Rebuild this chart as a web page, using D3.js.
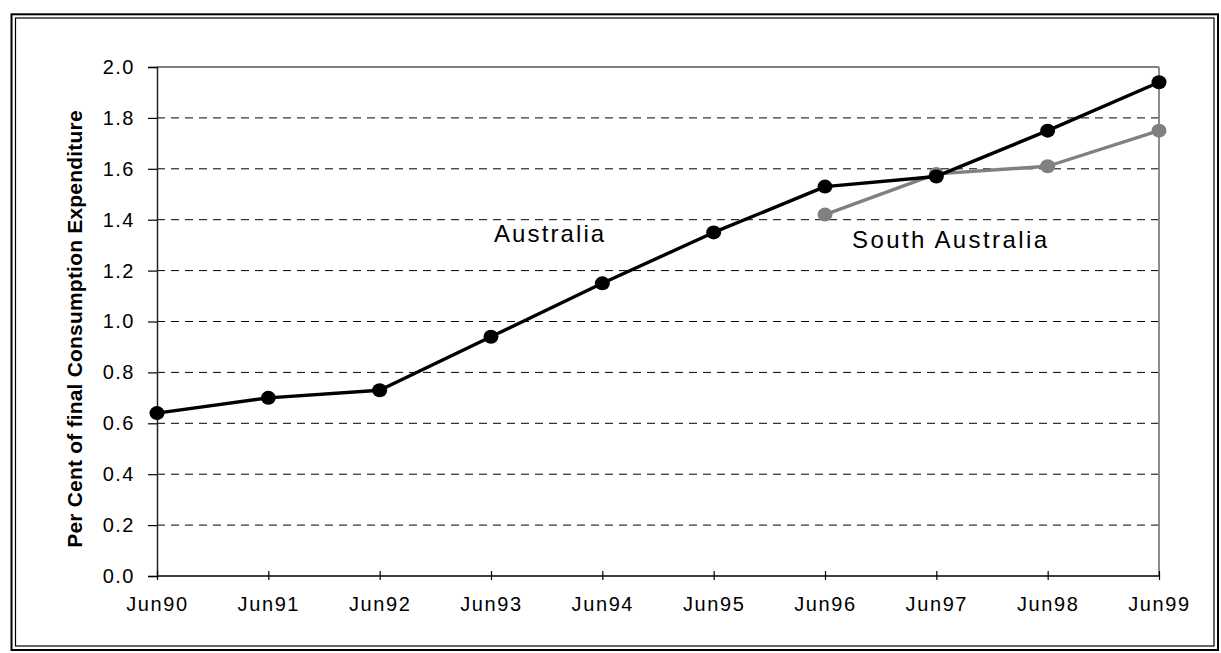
<!DOCTYPE html>
<html>
<head>
<meta charset="utf-8">
<script src="https://cdn.jsdelivr.net/npm/d3@7"></script>
<style>
  html, body { margin: 0; padding: 0; background: #fff; }
  svg { display: block; }
  text { font-family: "Liberation Sans", Arial, Helvetica, sans-serif; fill: #000; }
</style>
</head>
<body>
<svg id="chart" width="1221" height="653"></svg>
<script>
// Financial year labels (June of each year)
const categories = ["Jun90", "Jun91", "Jun92", "Jun93", "Jun94", "Jun95", "Jun96", "Jun97", "Jun98", "Jun99"];

// Per cent of final consumption expenditure
const australia = [0.64, 0.70, 0.73, 0.94, 1.15, 1.35, 1.53, 1.57, 1.75, 1.94];
const southAustralia = [null, null, null, null, null, null, 1.42, 1.58, 1.61, 1.75];

const yTicks = [0.0, 0.2, 0.4, 0.6, 0.8, 1.0, 1.2, 1.4, 1.6, 1.8, 2.0];

const svg = d3.select("#chart");
const W = 1221, H = 653;

// Double frame around the whole chart
svg.append("rect").attr("x", 11.5).attr("y", 14.3).attr("width", 1218 - 11.5).attr("height", 650 - 14.3)
  .attr("fill", "none").attr("stroke", "#000").attr("stroke-width", 2);
svg.append("rect").attr("x", 15.5).attr("y", 18).attr("width", 1214 - 15.5).attr("height", 646 - 18)
  .attr("fill", "none").attr("stroke", "#000").attr("stroke-width", 1.2);

const plot = { left: 157, right: 1159, top: 67, bottom: 576 };

const x = d3.scalePoint().domain(categories).range([plot.left, plot.right]);
const y = d3.scaleLinear().domain([0, 2]).range([plot.bottom, plot.top]);

// Dashed horizontal gridlines
svg.append("g")
  .selectAll("line")
  .data(yTicks.filter(v => v > 0 && v < 2))
  .join("line")
  .attr("x1", plot.left).attr("x2", plot.right)
  .attr("y1", d => y(d)).attr("y2", d => y(d))
  .attr("stroke", "#000").attr("stroke-width", 1)
  .attr("stroke-dasharray", "8,6");

// Plot area top and right edges
svg.append("line").attr("x1", plot.left).attr("x2", plot.right).attr("y1", y(2)).attr("y2", y(2))
  .attr("stroke", "#808080").attr("stroke-width", 1.8);
svg.append("line").attr("x1", plot.right).attr("x2", plot.right).attr("y1", y(2)).attr("y2", y(0))
  .attr("stroke", "#808080").attr("stroke-width", 1.8);

// Y axis
const yAxis = d3.axisLeft(y).tickValues(yTicks).tickFormat(d3.format(".1f")).tickSize(9).tickPadding(13);
const gy = svg.append("g").attr("transform", `translate(${plot.left},0)`).call(yAxis);
gy.select(".domain").attr("stroke", "#222").attr("stroke-width", 1.5);
gy.selectAll(".tick line").attr("stroke", "#000").attr("stroke-width", 1.2);
gy.selectAll(".tick text")
  .attr("font-size", 20).attr("letter-spacing", 1.5)
  .attr("font-family", "Liberation Sans, Arial, sans-serif").attr("fill", "#000");

// X axis
const xAxis = d3.axisBottom(x).tickSize(4).tickPadding(17);
const gx = svg.append("g").attr("transform", `translate(0,${plot.bottom})`).call(xAxis);
gx.select(".domain").attr("stroke", "#000").attr("stroke-width", 1.5)
  .attr("d", `M${plot.left},0H${plot.right}`);
gx.selectAll(".tick line").attr("y1", -5).attr("y2", 4).attr("stroke", "#000").attr("stroke-width", 1.2);
gx.selectAll(".tick text")
  .attr("font-size", 20).attr("letter-spacing", 1.6)
  .attr("font-family", "Liberation Sans, Arial, sans-serif").attr("fill", "#000");

// Y axis title
svg.append("text")
  .attr("transform", `translate(82,329) rotate(-90)`)
  .attr("text-anchor", "middle")
  .attr("font-size", 21).attr("font-weight", "bold").attr("letter-spacing", 0.2)
  .text("Per Cent of final Consumption Expenditure");

// Series
const series = [
  { name: "South Australia", values: southAustralia, color: "#808080" },
  { name: "Australia", values: australia, color: "#000000" }
];

const line = d3.line()
  .defined(d => d.v != null)
  .x(d => x(d.c))
  .y(d => y(d.v));

series.forEach(s => {
  const pts = categories.map((c, i) => ({ c, v: s.values[i] }));
  svg.append("path")
    .datum(pts)
    .attr("fill", "none")
    .attr("stroke", s.color)
    .attr("stroke-width", 3.4)
    .attr("stroke-linejoin", "round")
    .attr("d", line);
  svg.append("g")
    .selectAll("ellipse")
    .data(pts.filter(d => d.v != null))
    .join("ellipse")
    .attr("cx", d => x(d.c))
    .attr("cy", d => y(d.v))
    .attr("rx", 7.5).attr("ry", 7)
    .attr("fill", s.color);
});

// Series labels
svg.append("text").attr("x", 494).attr("y", 241.5)
  .attr("font-size", 24).attr("letter-spacing", 2.1)
  .text("Australia");
svg.append("text").attr("x", 852).attr("y", 248)
  .attr("font-size", 24).attr("letter-spacing", 2.4)
  .text("South Australia");
</script>
</body>
</html>
